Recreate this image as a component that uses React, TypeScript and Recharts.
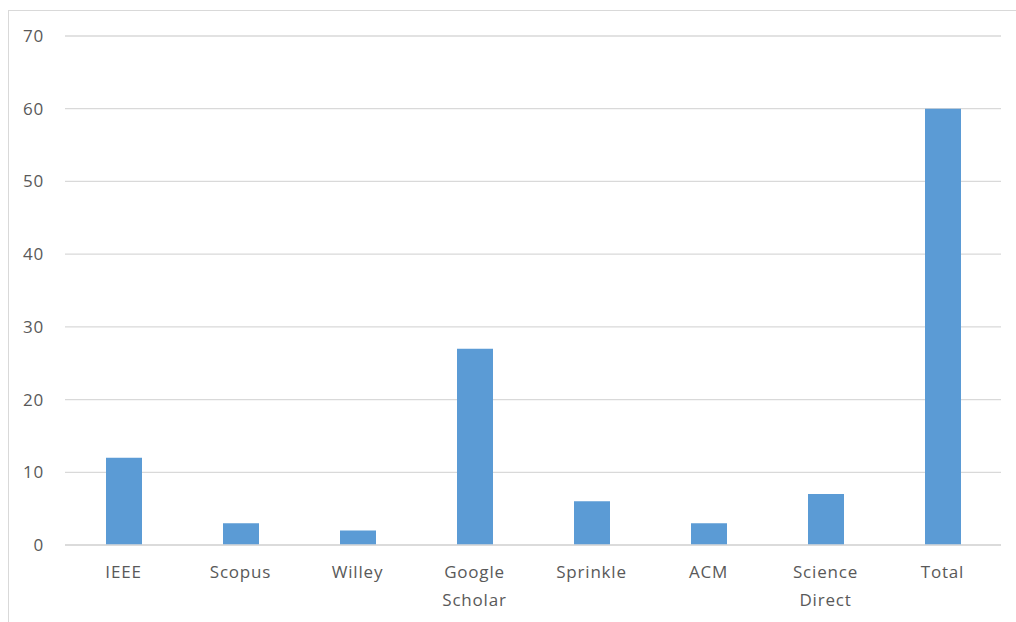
import { BarChart, Bar, XAxis, YAxis, CartesianGrid } from 'recharts';

const sources = ['IEEE', 'Scopus', 'Willey', 'Google Scholar', 'Sprinkle', 'ACM', 'Science Direct', 'Total'];
const counts = [12, 3, 2, 27, 6, 3, 7, 60];
const yTicks = [0, 10, 20, 30, 40, 50, 60, 70];

const data = sources.map((name, i) => ({ name, count: counts[i] }));

const FONT = '"Open Sans", sans-serif';
const TEXT = '#595959';

function CategoryTick(props: any) {
  const { x, y, payload } = props;
  const lines = String(payload.value).split(' ');
  return (
    <text x={x} y={y} textAnchor="middle" fill={TEXT} fontFamily={FONT} fontSize={17} letterSpacing={0.8}>
      {lines.map((l, i) => (
        <tspan key={i} x={x} dy={i === 0 ? 25 : 28}>{l}</tspan>
      ))}
    </text>
  );
}

export default function App() {
  return (
    <div style={{ position: 'fixed', left: 0, top: 0, width: 1016, height: 622, overflow: 'hidden', background: '#fff' }}>
      <div style={{ position: 'absolute', left: 8, top: 10, width: 1100, height: 700, border: '1px solid #d9d9d9' }} />
      <div style={{ position: 'absolute', left: 0, top: 0 }}>
        <BarChart width={1016} height={622} data={data} margin={{ top: 36, right: 15, bottom: 0, left: 0 }}>
          <CartesianGrid vertical={false} stroke="#d9d9d9" strokeWidth={1.3} />
          <XAxis
            dataKey="name"
            axisLine={{ stroke: '#d9d9d9', strokeWidth: 1.3 }}
            tickLine={false}
            height={77}
            interval={0}
            tick={<CategoryTick />}
          />
          <YAxis
            domain={[0, 70]}
            ticks={yTicks}
            width={65}
            axisLine={false}
            tickLine={false}
            tickSize={0}
            tickMargin={21}
            tick={{ fill: TEXT, fontFamily: FONT, fontSize: 17, letterSpacing: 0.8 }}
          />
          <Bar dataKey="count" fill="#5b9bd5" barSize={36} isAnimationActive={false} />
        </BarChart>
      </div>
    </div>
  );
}
